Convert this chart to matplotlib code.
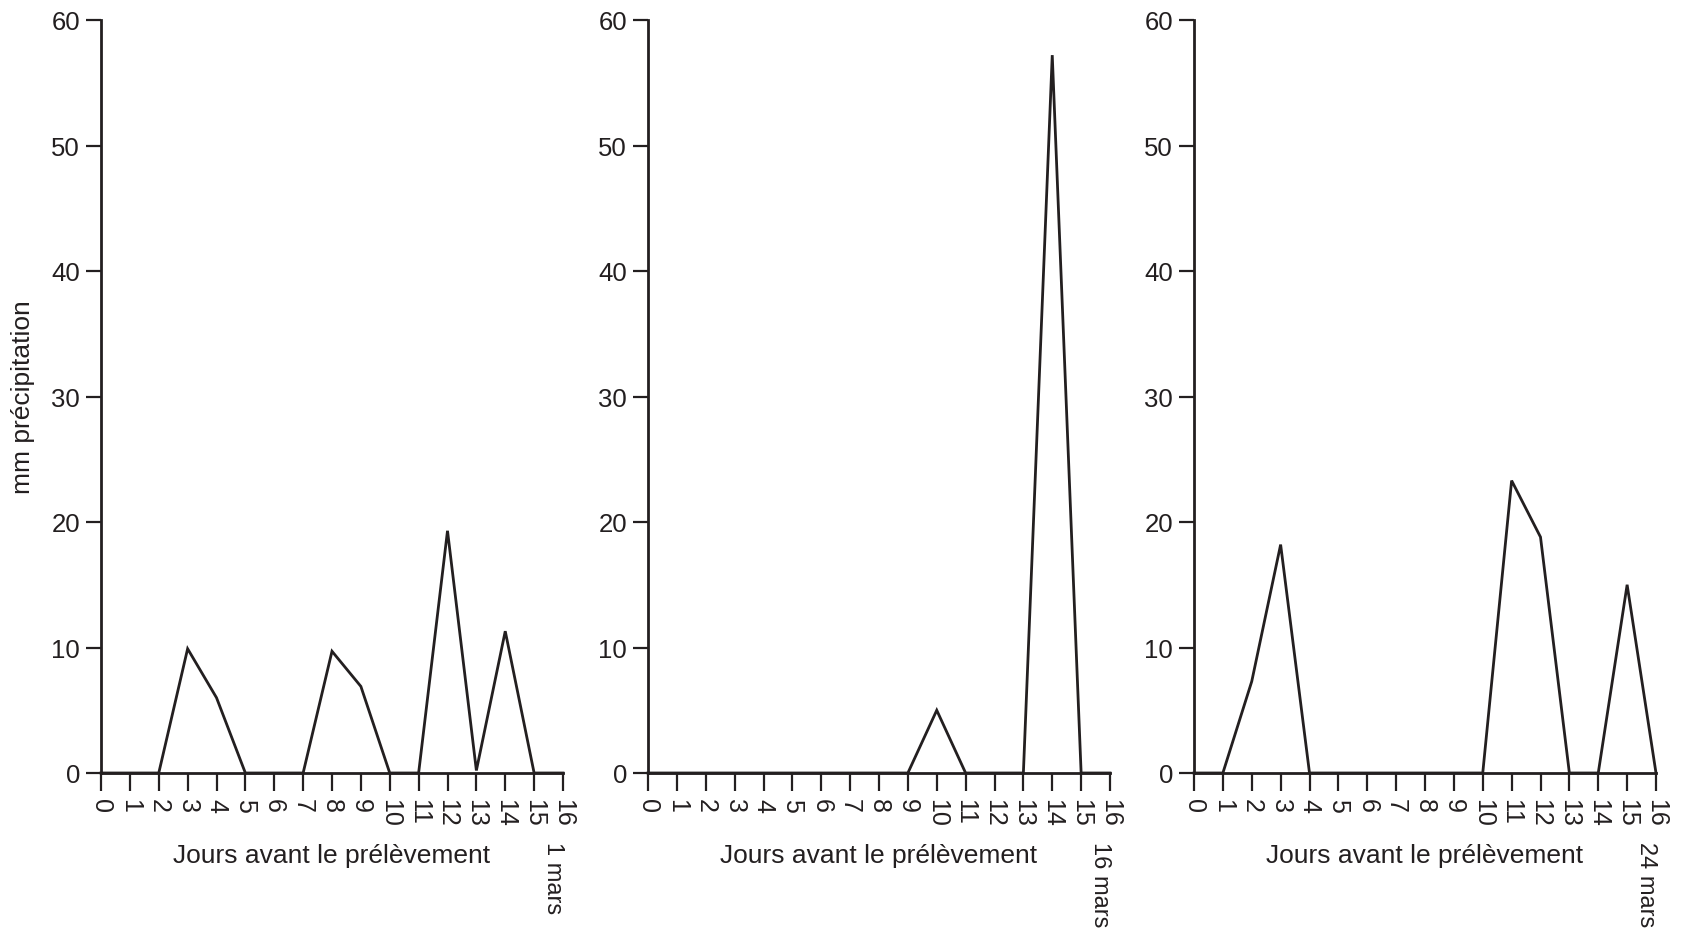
import numpy as np
import matplotlib
matplotlib.use('Agg')
import matplotlib.pyplot as plt

plt.rcParams['font.family'] = ['Liberation Sans', 'DejaVu Sans']

# Days before sampling
days = list(range(0, 17))
day_labels = [str(d) for d in days]

# mm precipitation per day
rain_1mars = [0, 0, 0, 9.9, 6.0, 0, 0, 0, 9.7, 6.9, 0, 0, 19.3, 0.2, 11.3, 0, 0]
rain_16mars = [0, 0, 0, 0, 0, 0, 0, 0, 0, 0, 5.0, 0, 0, 0, 57.2, 0, 0]
rain_24mars = [0, 0, 7.3, 18.2, 0, 0, 0, 0, 0, 0, 0, 23.3, 18.8, 0, 0, 15.0, 0]

series = [rain_1mars, rain_16mars, rain_24mars]
dates = ['1 mars', '16 mars', '24 mars']
y_ticks = [0, 10, 20, 30, 40, 50, 60]

W, H = 1686, 937
fig = plt.figure(figsize=(W / 100, H / 100), dpi=100)

lefts = [101, 648, 1194]
width = 462
bottom = 774
top = 21

ink = '#231f20'

for i, (vals, date) in enumerate(zip(series, dates)):
    ax = fig.add_axes([lefts[i] / W, 1 - bottom / H, width / W, (bottom - top) / H])
    ax.plot(days, vals, color=ink, lw=2.0, clip_on=False, solid_joinstyle='miter')
    ax.set_xlim(0, 16)
    ax.set_ylim(0, 60)
    for s in ['top', 'right']:
        ax.spines[s].set_visible(False)
    for s in ['left', 'bottom']:
        ax.spines[s].set_linewidth(2.0)
        ax.spines[s].set_color(ink)
    ax.set_xticks(days)
    ax.set_xticklabels(day_labels, rotation=-90, fontsize=18)
    ax.set_yticks(y_ticks)
    ax.tick_params(axis='x', length=13, width=1.6, color=ink, pad=5, labelcolor=ink)
    ax.tick_params(axis='y', length=11, width=1.6, color=ink, pad=4, labelsize=18.5, labelcolor=ink)
    ax.set_xlabel('Jours avant le prélèvement', fontsize=19, color=ink, labelpad=12)
    if i == 0:
        ax.set_ylabel('mm précipitation', fontsize=19, color=ink, labelpad=12)
    # sampling date under the last tick
    ax.text(15.65, -5.4, date, rotation=-90, ha='center', va='top', fontsize=17,
            color=ink)

fig.savefig('out.png', dpi=100)
